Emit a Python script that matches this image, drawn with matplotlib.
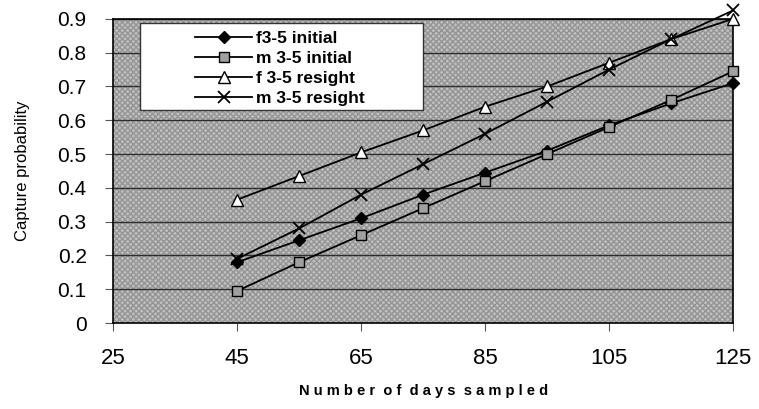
import matplotlib
matplotlib.use('Agg')
import matplotlib.pyplot as plt
from matplotlib.patches import Rectangle

plt.rcParams['font.family'] = ['Liberation Sans', 'DejaVu Sans']

# data
days = [45, 55, 65, 75, 85, 95, 105, 115, 125]
f_initial = [0.18, 0.245, 0.31, 0.38, 0.445, 0.51, 0.585, 0.65, 0.71]
m_initial = [0.095, 0.18, 0.26, 0.34, 0.42, 0.50, 0.58, 0.66, 0.745]
f_resight = [0.365, 0.435, 0.505, 0.57, 0.64, 0.70, 0.77, 0.84, 0.90]
m_resight = [0.19, 0.28, 0.38, 0.47, 0.56, 0.655, 0.75, 0.84, 0.925]
labels = ['f3-5 initial', 'm 3-5 initial', 'f 3-5 resight', 'm 3-5 resight']
xticks = [25, 45, 65, 85, 105, 125]
yticks = [0, 0.1, 0.2, 0.3, 0.4, 0.5, 0.6, 0.7, 0.8, 0.9]

fig = plt.figure(figsize=(7.59, 4.09), dpi=100)
ax = fig.add_axes([0.149, 0.21, 0.817, 0.744])

# hatched grey plot area
ax.set_facecolor('#c0c0c0')
ax.add_patch(Rectangle((0, 0), 1, 1, transform=ax.transAxes, facecolor='none',
                       edgecolor='#959595', hatch='xxxxxx', linewidth=0, zorder=0))

for y in yticks[1:]:
    ax.axhline(y, color='#2e2e2e', linewidth=1.0, zorder=1)

kw = dict(color='black', linewidth=1.3, zorder=3, clip_on=False)
ax.plot(days, f_initial, marker='D', markersize=6, markerfacecolor='black', label=labels[0], **kw)
ax.plot(days, m_initial, marker='s', markersize=7, markerfacecolor='#a0a0a0',
        markeredgecolor='black', label=labels[1], **kw)
ax.plot(days, f_resight, marker='^', markersize=8, markerfacecolor='white',
        markeredgecolor='black', label=labels[2], **kw)
ax.plot(days, m_resight, marker='x', markersize=9, markeredgewidth=1.3, label=labels[3], **kw)

# white legend box
ax.add_patch(Rectangle((0.044, 0.70), 0.455, 0.285, transform=ax.transAxes,
                       facecolor='white', edgecolor='#333333', linewidth=1.0, zorder=4))
leg = ax.legend(loc='upper left', bbox_to_anchor=(0.11, 1.005), frameon=False,
                prop={'size': 12.5, 'weight': 'bold'}, handlelength=3.3, handletextpad=0.2,
                labelspacing=0.28, borderpad=0.3)
leg.set_zorder(5)

ax.set_xlim(25, 125)
ax.set_ylim(0, 0.9)
ax.set_xticks(xticks)
ax.set_yticks(yticks)
ax.set_yticklabels(['0' if v == 0 else f'{v:.1f}' for v in yticks])
ax.tick_params(axis='y', labelsize=15, length=6, color='#555555', pad=13)
ax.tick_params(axis='x', labelsize=16, length=6, color='#555555', pad=12)
for s in ax.spines.values():
    s.set_color('black')
    s.set_linewidth(1.2)

ax.set_ylabel('Capture probability', fontsize=12, labelpad=20)
ax.set_xlabel('N u m b e r  o f  d a y s  s a m p l e d', fontsize=10.5, fontweight='bold', labelpad=11)

fig.savefig('out.png', dpi=100)
